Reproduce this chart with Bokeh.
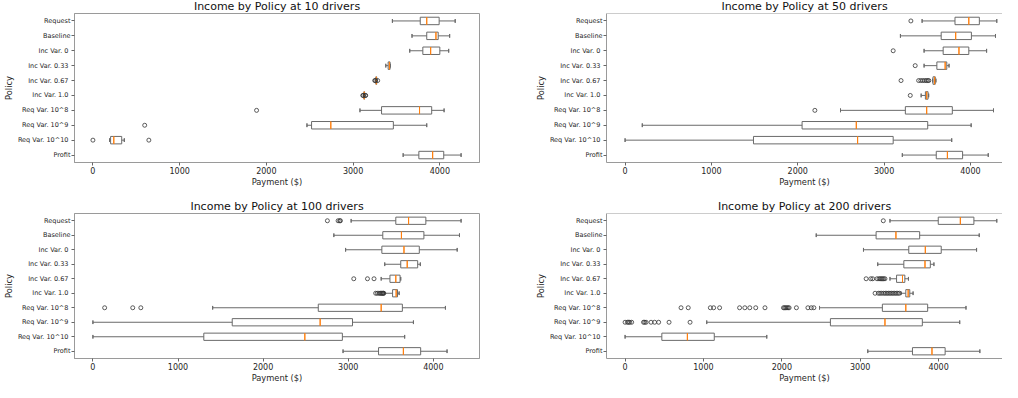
from bokeh.plotting import figure
from bokeh.layouts import gridplot
from bokeh.models import FactorRange, Range1d, SingleIntervalTicker, Span
from bokeh.embed import file_html
from bokeh.resources import INLINE

policies = ["Request", "Baseline", "Inc Var.  0", "Inc Var.  0.33", "Inc Var.  0.67",
            "Inc Var.  1.0", "Req Var.  10^8", "Req Var.  10^9", "Req Var.  10^10", "Profit"]

# ---- 10 drivers ----
lo_10 = [3453, 3679, 3653, 3377, 3255, 3118, 3079, 2468, 193, 3577]
q1_10 = [3774, 3849, 3804, 3404, 3262, 3124, 3328, 2521, 204, 3758]
med_10 = [3849, 3955, 3894, 3419, 3268, 3128, 3766, 2743, 241, 3917]
q3_10 = [3992, 3981, 4000, 3426, 3272, 3132, 3906, 3464, 332, 4045]
hi_10 = [4177, 4113, 4102, 3430, 3278, 3138, 4049, 3849, 362, 4245]
fl_10 = [[], [], [], [], [3250, 3256, 3283], [3112, 3117, 3141, 3145], [1887], [597], [0, 645], []]

# ---- 50 drivers ----
lo_50 = [3440, 3189, 3463, 3463, 3562, 3429, 2495, 199, 0, 3211]
q1_50 = [3821, 3661, 3684, 3611, 3566, 3478, 3246, 2050, 1487, 3604]
med_50 = [3981, 3829, 3867, 3707, 3585, 3493, 3493, 2678, 2693, 3733]
q3_50 = [4103, 4011, 3981, 3726, 3592, 3509, 3790, 3505, 3105, 3909]
hi_50 = [4305, 4290, 4187, 3752, 3600, 3516, 4267, 4008, 3783, 4206]
fl_50 = [[3310], [], [3105], [3360], [3196, 3400, 3425, 3448, 3470, 3490, 3505, 3518],
         [3303], [2198], [], [], []]

# ---- 100 drivers ----
lo_100 = [3034, 2831, 2969, 3429, 3387, 3425, 1407, 0, 0, 2939]
q1_100 = [3559, 3406, 3395, 3617, 3490, 3521, 2648, 1637, 1303, 3356]
med_100 = [3709, 3625, 3655, 3693, 3559, 3563, 3387, 2670, 2490, 3648]
q3_100 = [3912, 3889, 3835, 3816, 3609, 3579, 3636, 3050, 2931, 3851]
hi_100 = [4326, 4307, 4280, 3847, 3617, 3598, 4142, 3766, 3663, 4161]
fl_100 = [[2755, 2881, 2900, 2908], [], [], [], [3065, 3226, 3303],
          [3322, 3340, 3360, 3375, 3385, 3395, 3405, 3412, 3418], [138, 468, 563], [], [], []]

# ---- 200 drivers ----
lo_200 = [3380, 2439, 3042, 3224, 3380, 3520, 2481, 1042, 0, 3097]
q1_200 = [3996, 3203, 3620, 3557, 3464, 3582, 3283, 2620, 469, 3667]
med_200 = [4278, 3456, 3831, 3827, 3540, 3612, 3582, 3316, 795, 3916]
q3_200 = [4451, 3759, 4034, 3895, 3570, 3633, 3861, 3793, 1138, 4084]
hi_200 = [4743, 4519, 4485, 3941, 3616, 3675, 4350, 4270, 1808, 4527]
fl_200 = [[3295], [], [], [],
          [3076, 3135, 3160, 3215, 3240, 3255, 3270, 3285, 3300, 3316],
          [3190, 3232, 3253, 3275, 3300, 3320, 3340, 3360, 3380, 3400, 3420, 3440, 3460, 3480, 3500],
          [714, 806, 1088, 1130, 1206, 1461, 1528, 1591, 1667, 1785, 2021, 2035, 2050, 2065, 2080,
           2093, 2186, 2333, 2376, 2409],
          [0, 30, 45, 60, 84, 235, 250, 268, 331, 377, 428, 561, 829],
          [], []]

FONT = "DejaVu Sans"
FRAME_C = "#9a9a9a"
BOX_C = "#6a6a6a"
MED_C = "#ff7f0e"
TXT_C = "#262626"


def make_panel(n, lo, q1, med, q3, hi, fl, right_col, bottom_row):
    frame_w_full = 413
    if right_col:
        bl, br, fw = 70, 0, 400
    else:
        bl, br, fw = 66, 53, 413
    if bottom_row:
        bt, bb, fh = 24, 22, 150
    else:
        bt, bb, fh = 14, 23, 155

    all_vals = lo + hi + [v for f in fl for v in f]
    vmin, vmax = min(all_vals), max(all_vals)
    pad = 0.05 * (vmax - vmin)
    xs, xe = vmin - pad, vmax + pad
    xe = xs + (xe - xs) * fw / frame_w_full

    p = figure(width=bl + fw + br, height=bt + fh + bb,
               y_range=FactorRange(factors=list(reversed(policies)), range_padding=0),
               x_range=Range1d(xs, xe),
               output_backend="svg", toolbar_location=None,
               min_border_left=bl, min_border_right=br,
               min_border_top=bt, min_border_bottom=bb)
    p.title.text = "Income by Policy at %d drivers" % n
    p.title.align = "center"
    p.title.text_font = FONT
    p.title.text_font_size = "11px"
    p.title.text_font_style = "normal"
    p.title.text_color = "#111111"
    p.title.standoff = 1

    p.xgrid.visible = False
    p.ygrid.visible = False
    p.background_fill_color = "white"
    p.border_fill_color = "white"
    if right_col:
        p.outline_line_color = None
        p.add_layout(Span(location=10, dimension="width", line_color=FRAME_C, line_width=1))
    else:
        p.outline_line_color = FRAME_C
        p.outline_line_width = 1

    p.xaxis.ticker = SingleIntervalTicker(interval=1000)
    p.xaxis.axis_label = "Payment ($)"
    p.yaxis.axis_label = "Policy"
    for ax in (p.xaxis[0], p.yaxis[0]):
        ax.axis_line_color = FRAME_C
        ax.major_tick_line_color = "#666666"
        ax.major_tick_out = 3
        ax.major_tick_in = 0
        ax.minor_tick_line_color = None
        ax.major_label_text_font = FONT
        ax.major_label_text_color = TXT_C
        ax.major_label_standoff = 0
        ax.axis_label_text_font = FONT
        ax.axis_label_text_font_style = "normal"
        ax.axis_label_text_font_size = "8.3px"
        ax.axis_label_text_color = TXT_C
        ax.axis_label_standoff = 0
    p.yaxis.major_label_standoff = 1
    p.yaxis.axis_label_standoff = 1
    p.xaxis.major_label_text_font_size = "8px"
    p.yaxis.major_label_text_font_size = "6.5px"

    # whiskers
    p.segment(x0=lo, y0=policies, x1=q1, y1=policies, line_color=BOX_C, line_width=1)
    p.segment(x0=q3, y0=policies, x1=hi, y1=policies, line_color=BOX_C, line_width=1)
    # caps
    p.hbar(y=policies, left=lo, right=lo, height=0.25, fill_color=None, line_color=BOX_C, line_width=1)
    p.hbar(y=policies, left=hi, right=hi, height=0.25, fill_color=None, line_color=BOX_C, line_width=1)
    # boxes
    p.hbar(y=policies, left=q1, right=q3, height=0.5, fill_color=None, line_color=BOX_C, line_width=1)
    # medians
    p.hbar(y=policies, left=med, right=med, height=0.5, fill_color=None, line_color=MED_C, line_width=1)
    # fliers
    fx, fy = [], []
    for cat, vals in zip(policies, fl):
        for v in vals:
            fx.append(v)
            fy.append(cat)
    p.scatter(x=fx, y=fy, marker="circle", size=4, fill_color=None,
              line_color="#333333", line_width=0.8)
    return p


p10 = make_panel(10, lo_10, q1_10, med_10, q3_10, hi_10, fl_10, False, False)
p50 = make_panel(50, lo_50, q1_50, med_50, q3_50, hi_50, fl_50, True, False)
p100 = make_panel(100, lo_100, q1_100, med_100, q3_100, hi_100, fl_100, False, True)
p200 = make_panel(200, lo_200, q1_200, med_200, q3_200, hi_200, fl_200, True, True)

grid = gridplot([[p10, p50], [p100, p200]], toolbar_location=None)
grid.margin = (-3, 0, 0, 0)

open("out.html", "w").write(file_html(grid, INLINE))
